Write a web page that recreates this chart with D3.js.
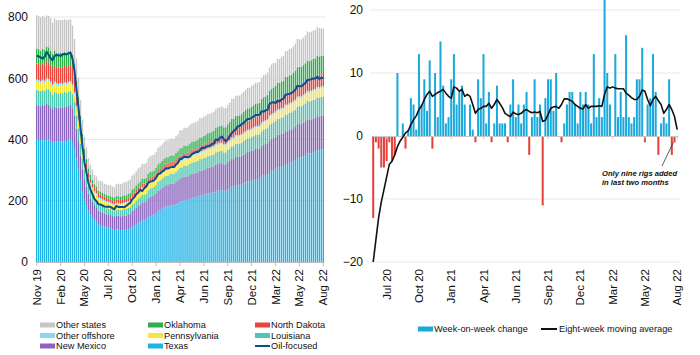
<!DOCTYPE html>
<html><head><meta charset="utf-8">
<script src="https://cdn.jsdelivr.net/npm/d3@7"></script>
<style>
body{margin:0;background:#fff}
svg{display:block}
text{font-family:"Liberation Sans",Arial,sans-serif;fill:#111}
</style>
</head><body>
<svg id="chart" width="700" height="355"></svg>
<script>
// ---------- DATA ----------
const leftTickLabels = ["Nov 19","Feb 20","May 20","Jul 20","Oct 20","Jan 21","Apr 21","Jun 21","Sep 21","Dec 21","Mar 22","May 22","Aug 22"];
const rightTickLabels = ["Jul 20","Oct 20","Jan 21","Apr 21","Jun 21","Sep 21","Dec 21","Mar 22","May 22","Aug 22"];
const leftYTicks = [0,200,400,600,800];
const rightYTicks = [-20,-10,0,10,20];

const totalRigs = [806,802,799,803,799,805,804,796,781,796,790,790,791,790,793,790,792,792,772,728,
664,602,529,465,408,374,339,318,301,284,279,266,265,263,256,253,251,251,247,244,
254,256,254,256,261,261,266,269,282,287,296,305,310,320,320,323,338,346,348,351,
360,373,378,384,392,397,397,402,403,402,411,417,430,430,439,438,440,448,453,455,
457,461,470,470,475,478,484,484,488,491,500,503,505,508,503,503,512,521,533,533,
543,543,544,550,556,563,569,569,576,579,586,586,588,601,610,613,619,635,645,650,
650,663,663,670,673,689,689,695,698,705,714,728,727,727,733,740,753,750,752,756,
758,767,764,763,762];
const texas = [401,399,397,400,398,402,401,396,389,395,393,392,394,393,396,395,399,401,392,372,
338,305,268,232,204,186,168,156,146,138,132,122,120,118,116,113,112,110,107,104,
106,106,104,104,105,105,108,109,115,118,123,128,131,136,136,138,146,150,152,155,
160,167,170,174,178,181,181,184,185,185,188,192,197,198,202,201,203,206,209,210,
211,213,217,217,220,221,224,224,226,228,232,234,235,236,233,233,238,241,246,246,
251,251,252,254,257,260,263,263,266,268,271,271,272,278,282,284,287,294,298,300,
305,310,310,313,314,320,320,324,326,329,333,340,341,341,345,349,355,354,356,358,
360,365,365,367,368];
const newMexico = [112,111,112,113,112,114,113,111,110,112,111,110,111,110,112,111,112,112,110,105,
97,90,80,72,64,60,55,52,50,48,47,45,45,44,43,43,44,44,43,43,
45,45,45,46,47,47,48,49,51,52,54,56,57,59,59,60,62,63,63,63,
64,66,67,68,69,70,70,71,71,71,73,74,76,76,77,77,77,78,79,79,
80,80,81,81,82,82,83,83,84,84,86,86,87,87,86,86,88,89,90,90,
92,92,92,93,94,95,96,96,97,97,98,98,98,100,100,101,101,103,104,104,
104,105,105,105,105,107,107,107,107,108,108,110,110,109,110,110,111,110,110,110,
110,111,110,110,110];
const louisiana = [49,50,49,48,49,50,50,49,48,49,48,48,47,47,47,46,46,46,46,45,
43,41,38,35,32,29,27,25,23,22,22,21,21,20,20,20,19,19,19,19,
20,20,20,20,21,21,21,21,22,22,23,23,24,25,25,25,26,27,27,27,
28,29,29,30,31,31,31,32,32,32,33,34,35,35,36,36,36,36,37,37,
37,37,38,38,38,38,39,39,39,39,40,40,40,40,39,39,40,41,42,42,
43,43,43,43,44,44,45,45,45,46,46,46,47,48,49,49,49,51,51,52,
52,53,53,54,54,55,55,56,56,57,57,58,58,58,59,59,60,60,60,61,
61,62,62,62,62];
const pennsylvania = [26,26,25,26,25,26,26,25,25,25,24,24,25,24,24,24,24,24,24,24,
24,23,23,22,22,21,21,20,20,19,19,18,18,18,18,18,18,18,18,18,
18,18,18,18,18,18,18,18,19,19,19,19,19,20,20,20,20,20,20,20,
20,20,20,20,20,20,20,20,20,20,20,20,20,20,21,21,21,21,21,21,
21,21,21,21,21,22,22,22,22,22,22,22,22,22,22,22,22,22,23,23,
23,23,23,23,23,23,23,23,23,24,24,24,24,24,24,24,24,25,25,25,
25,25,25,25,25,26,26,26,26,26,26,26,26,27,27,27,27,27,28,28,
28,28,28,28,28];
const otherOffshore = [8,8,8,8,8,8,8,8,8,8,8,8,8,8,8,8,8,8,8,8,
7,7,7,7,6,6,6,6,5,5,5,5,5,5,5,5,4,4,4,4,
4,4,4,4,4,4,4,4,4,4,4,4,4,4,4,4,5,5,5,5,
5,5,5,5,5,5,5,5,5,5,5,5,5,5,5,5,5,5,5,5,
5,5,5,5,5,5,5,5,5,5,5,5,5,5,5,5,5,5,5,5,
5,5,5,5,5,5,5,5,5,5,5,5,5,5,5,5,5,5,5,5,
6,6,6,6,6,6,6,6,6,6,6,6,6,6,6,6,6,6,6,6,
6,6,6,6,6];
const northDakota = [52,53,52,54,53,54,54,53,53,53,53,53,52,53,53,53,53,53,53,50,
45,40,33,26,22,18,15,13,12,11,11,11,11,11,11,10,10,10,11,11,
11,11,11,11,11,11,11,11,12,12,12,12,12,12,12,12,12,12,12,12,
13,13,13,13,14,14,14,14,14,14,15,15,15,15,15,15,15,16,16,16,
16,17,17,17,17,18,18,19,19,20,21,21,22,22,22,22,23,24,25,25,
26,27,27,28,28,29,30,30,31,31,32,32,32,33,33,33,33,34,34,34,
34,35,35,35,35,36,36,36,36,37,37,38,38,38,38,39,39,39,39,40,
40,41,40,40,40];
const oklahoma = [49,48,47,48,47,50,49,47,46,48,47,47,46,46,46,45,46,45,44,42,
38,34,29,24,19,16,14,13,12,11,11,10,10,10,10,10,10,10,10,10,
11,11,11,12,12,12,13,13,14,14,15,15,16,16,16,16,17,17,17,17,
18,19,19,20,20,21,21,21,21,21,22,22,23,23,24,24,24,25,26,26,
26,27,28,28,29,29,30,30,31,31,32,33,33,34,33,33,34,35,36,36,
37,37,37,38,39,40,40,40,41,41,42,42,42,44,45,45,46,48,49,50,
50,51,51,52,52,54,54,55,55,56,57,58,58,58,58,59,60,60,60,60,
60,61,60,60,60];
const oilFocused = [674,671,668,664,670,686,677,665,659,673,676,675,673,678,679,678,682,683,664,624,
562,504,438,378,325,292,258,237,222,206,199,189,188,185,181,180,181,180,176,172,
183,180,180,180,179,183,189,193,205,211,221,226,236,231,241,246,258,263,264,267,
275,287,289,295,299,306,305,309,310,310,318,324,337,337,344,343,342,344,352,356,
359,359,365,373,372,376,378,380,385,387,400,397,405,410,401,394,401,411,421,428,
433,443,444,450,454,461,467,467,471,475,480,480,481,492,491,495,497,516,520,522,
519,527,524,531,533,546,548,549,552,557,563,576,574,574,580,584,594,595,597,599,
599,605,598,601,601];

const weeklyChange = [-13,-1,-2,-5,-5,-4,-1,-4,-3,10,
0,2,-2,1,6,5,1,13,5,9,
4,12,-2,10,3,15,8,2,3,9,
13,5,7,8,5,0,5,1,-1,9,
6,13,2,7,-1,2,8,2,2,2,
-1,5,9,3,5,2,5,7,-3,3,
9,3,5,-11,6,9,9,4,10,0,
-1,2,5,7,7,5,2,7,5,7,
5,2,13,3,6,3,22,10,5,0,
13,3,7,3,16,3,2,3,9,9,
14,-1,5,6,13,7,-3,2,3,2,
9,-3,-1,0];
const movingAverage = [-20,-16.5,-13,-10.5,-8.5,-6.5,-4.5,-4,-3,-1.7,
-0.8,-0.2,0.5,0.8,1.8,2.6,3.2,4.2,4.8,5.8,
6.6,7.1,6.3,6.6,6.9,7.1,7.4,6.8,6.3,6.0,
7.8,7.6,7.1,7.4,6.3,6.6,6.3,5.0,3.6,4.2,
4.4,4.7,4.7,5.2,4.4,5.0,5.8,5.2,4.5,3.6,
3.3,3.1,3.8,3.5,3.4,3.6,4.0,4.2,3.9,3.7,
3.8,3.7,3.9,2.3,2.5,3.4,4.4,4.6,4.7,4.4,
5.0,5.9,5.9,5.7,5.5,5.0,4.7,4.4,4.3,5.0,
4.4,4.7,4.7,4.7,4.8,4.7,6.6,7.8,7.6,7.8,
7.6,7.5,7.5,7.5,6.8,6.5,6.1,5.8,5.8,6.3,
7.3,7.1,5.8,4.8,5.8,6.3,5.6,5.0,3.6,4.2,
5.0,4.2,3.1,1.0];

const stackKeys = ["texas","newMexico","louisiana","pennsylvania","otherOffshore","northDakota","oklahoma","otherStates"];
const seriesColors = {
  texas:"#22b3e6", newMexico:"#8a64bd", louisiana:"#4ec6b0", pennsylvania:"#f8e53a",
  otherOffshore:"#8ad8ee", northDakota:"#e8453c", oklahoma:"#2fb04e", otherStates:"#c6c6c6"
};
const leftLegend = [
  ["Other states","otherStates","rect"],["Oklahoma","oklahoma","rect"],["North Dakota","northDakota","rect"],
  ["Other offshore","otherOffshore","rect"],["Pennsylvania","pennsylvania","rect"],["Louisiana","louisiana","rect"],
  ["New Mexico","newMexico","rect"],["Texas","texas","rect"],["Oil-focused","oil","line"]
];

// ---------- CHART ----------
const svg = d3.select("#chart");
const gridColor = "#e9e9e9";

// ===== Left panel =====
const nL = totalRigs.length;
const table = d3.range(nL).map(i => {
  const r = {i, texas:texas[i], newMexico:newMexico[i], louisiana:louisiana[i], pennsylvania:pennsylvania[i],
    otherOffshore:otherOffshore[i], northDakota:northDakota[i], oklahoma:oklahoma[i]};
  r.otherStates = totalRigs[i] - (r.texas+r.newMexico+r.louisiana+r.pennsylvania+r.otherOffshore+r.northDakota+r.oklahoma);
  return r;
});
const xL = d3.scaleBand().domain(d3.range(nL)).range([36, 324]).paddingInner(0.3).paddingOuter(0);
const yL = d3.scaleLinear().domain([0, 800]).range([262, 17]);

const gL = svg.append("g");
gL.append("g").selectAll("line").data(leftYTicks.filter(d => d > 0)).join("line")
  .attr("x1", 36).attr("x2", 326).attr("y1", d => yL(d)).attr("y2", d => yL(d))
  .attr("stroke", gridColor).attr("stroke-width", 1);

const stacked = d3.stack().keys(stackKeys)(table);
gL.append("g").selectAll("g").data(stacked).join("g")
  .attr("fill", d => seriesColors[d.key])
  .selectAll("rect").data(d => d).join("rect")
  .attr("x", d => xL(d.data.i)).attr("width", xL.bandwidth())
  .attr("y", d => yL(d[1])).attr("height", d => Math.max(0, yL(d[0]) - yL(d[1])));

const oilLine = d3.line().x((d, i) => xL(i) + xL.bandwidth() / 2).y(d => yL(d));
gL.append("path").datum(oilFocused).attr("d", oilLine)
  .attr("fill", "none").attr("stroke", "#0d4e8b").attr("stroke-width", 2).attr("stroke-linejoin", "round");

const yAxisL = d3.axisLeft(yL).tickValues(leftYTicks).tickSize(0).tickPadding(8);
gL.append("g").attr("transform", "translate(36,0)").call(yAxisL)
  .call(g => g.select(".domain").remove())
  .call(g => g.selectAll("text").attr("font-size", 12).attr("fill", "#111"));

const xAxisL = d3.axisBottom(xL).tickValues(d3.range(0, nL, 12))
  .tickFormat(i => leftTickLabels[i / 12]).tickSize(4).tickSizeOuter(0);
gL.append("g").attr("transform", "translate(0,262)").call(xAxisL)
  .call(g => g.select(".domain").attr("stroke", "#bdbdbd"))
  .call(g => g.selectAll(".tick line").attr("stroke", "#bdbdbd"))
  .call(g => g.selectAll("text").attr("font-size", 11.5).attr("fill", "#111")
    .attr("transform", "rotate(-90)").attr("text-anchor", "end")
    .attr("x", -7).attr("y", 0).attr("dy", "0.35em"));

// left legend
const legL = svg.append("g").attr("font-size", 9.2);
const colX = [40, 148, 255], rowY = [325, 335.5, 346];
leftLegend.forEach((d, k) => {
  const cx = colX[k % 3], cy = rowY[Math.floor(k / 3)];
  if (d[2] === "rect") {
    legL.append("rect").attr("x", cx).attr("y", cy - 2.5).attr("width", 15).attr("height", 5).attr("fill", seriesColors[d[1]]);
  } else {
    legL.append("line").attr("x1", cx).attr("x2", cx + 15).attr("y1", cy).attr("y2", cy).attr("stroke", "#0d4e8b").attr("stroke-width", 2);
  }
  legL.append("text").attr("x", cx + 16).attr("y", cy).attr("dy", "0.35em").text(d[0]);
});

// ===== Right panel =====
const nR = weeklyChange.length;
const xR = d3.scaleBand().domain(d3.range(nR)).range([372.2, 678.2]).paddingInner(0.25).paddingOuter(0);
const yR = d3.scaleLinear().domain([-20, 20]).range([262, 10]);
const gR = svg.append("g");

gR.append("g").selectAll("line").data(rightYTicks.filter(d => d !== 0)).join("line")
  .attr("x1", 370).attr("x2", 680).attr("y1", d => yR(d)).attr("y2", d => yR(d))
  .attr("stroke", gridColor).attr("stroke-width", 1);

gR.append("g").selectAll("rect").data(weeklyChange).join("rect")
  .attr("x", (d, i) => xR(i)).attr("width", xR.bandwidth())
  .attr("y", d => yR(Math.max(0, d))).attr("height", d => Math.abs(yR(d) - yR(0)))
  .attr("fill", d => d >= 0 ? "#1ba9dc" : "#e6403b");

// zero line with ticks
const xAxisZero = d3.axisBottom(xR).tickValues(d3.range(5, nR, 12)).tickFormat("").tickSize(3).tickSizeOuter(0);
gR.append("g").attr("transform", `translate(0,${yR(0)})`).call(xAxisZero)
  .call(g => g.select(".domain").attr("stroke", "#c8c8c8"))
  .call(g => g.selectAll(".tick line").attr("stroke", "#c8c8c8"));

const maLine = d3.line().x((d, i) => xR(i) + xR.bandwidth() / 2).y(d => yR(d));
gR.append("path").datum(movingAverage).attr("d", maLine)
  .attr("fill", "none").attr("stroke", "#111").attr("stroke-width", 1.6).attr("stroke-linejoin", "round");

const yAxisR = d3.axisLeft(yR).tickValues(rightYTicks).tickSize(0).tickPadding(8);
gR.append("g").attr("transform", "translate(371,0)").call(yAxisR)
  .call(g => g.select(".domain").remove())
  .call(g => g.selectAll("text").attr("font-size", 12).attr("fill", "#111"));

const xAxisR = d3.axisBottom(xR).tickValues(d3.range(5, nR, 12))
  .tickFormat(i => rightTickLabels[(i - 5) / 12]).tickSize(0).tickSizeOuter(0);
gR.append("g").attr("transform", "translate(0,262)").call(xAxisR)
  .call(g => g.select(".domain").remove())
  .call(g => g.selectAll("text").attr("font-size", 11.5).attr("fill", "#111")
    .attr("transform", "rotate(-90)").attr("text-anchor", "end")
    .attr("x", -7).attr("y", 0).attr("dy", "0.35em"));

// annotation
const ann = svg.append("g");
ann.append("line").attr("x1", 662).attr("y1", 166).attr("x2", 673.5).attr("y2", 142)
  .attr("stroke", "#333").attr("stroke-width", 0.8);
ann.append("text").attr("x", 602).attr("y", 176).attr("font-size", 7.6).attr("font-weight", "bold")
  .attr("font-style", "italic").text("Only nine rigs added");
ann.append("text").attr("x", 602).attr("y", 185).attr("font-size", 7.6).attr("font-weight", "bold")
  .attr("font-style", "italic").text("in last two months");

// right legend
const legR = svg.append("g").attr("font-size", 9.2);
legR.append("rect").attr("x", 418).attr("y", 326.5).attr("width", 15).attr("height", 5).attr("fill", "#1ba9dc");
legR.append("text").attr("x", 434).attr("y", 329).attr("dy", "0.35em").text("Week-on-week change");
legR.append("line").attr("x1", 541).attr("x2", 557).attr("y1", 329).attr("y2", 329).attr("stroke", "#111").attr("stroke-width", 2);
legR.append("text").attr("x", 559).attr("y", 329).attr("dy", "0.35em").text("Eight-week moving average");
</script>
</body></html>
